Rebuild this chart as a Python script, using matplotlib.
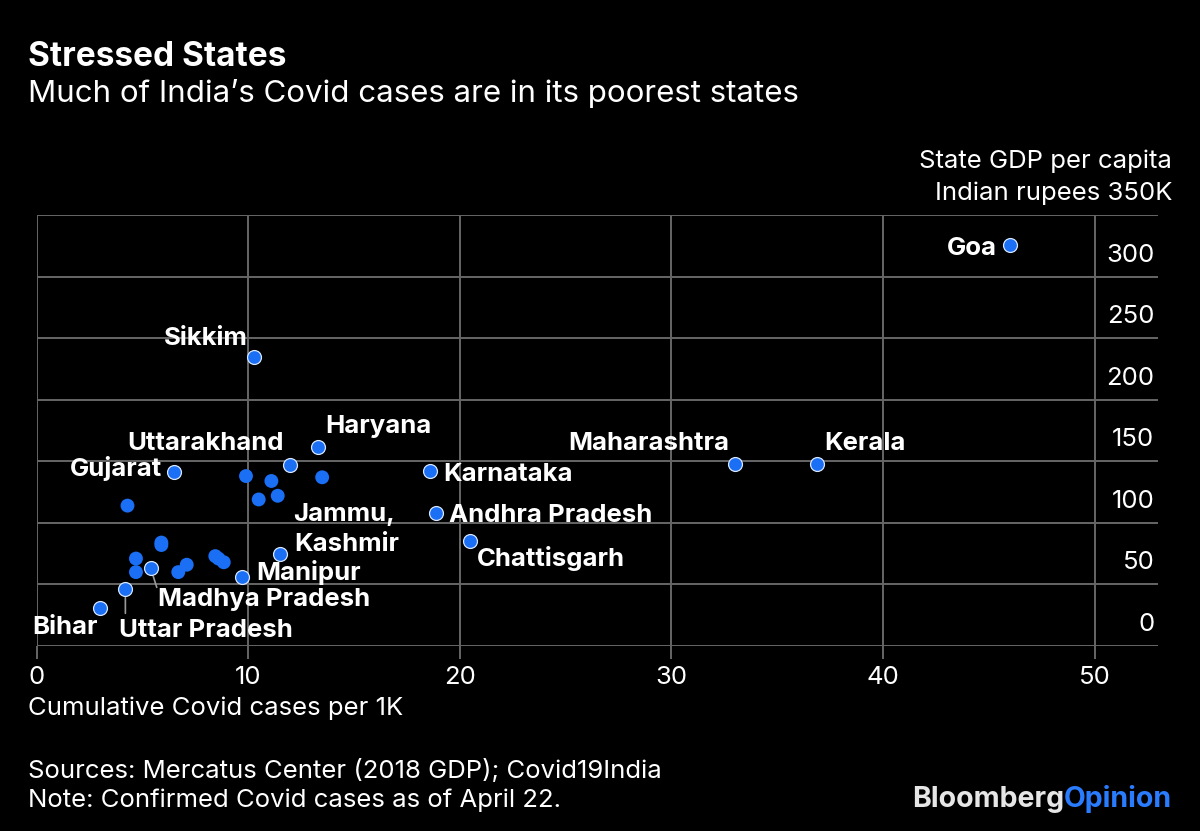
"""Stressed States: Covid cases vs state GDP per capita in India."""

import matplotlib

matplotlib.use("Agg")
import matplotlib.pyplot as plt

plt.rcParams["font.family"] = ["Inter", "DejaVu Sans"]

# cumulative Covid cases per 1K, state GDP per capita (thousand rupees)
states = [
    "Goa", "Sikkim", "Haryana", "Uttarakhand", "Gujarat", "Karnataka",
    "Maharashtra", "Kerala", "Andhra Pradesh", "Chattisgarh", "Jammu, Kashmir",
    "Manipur", "Madhya Pradesh", "Uttar Pradesh", "Bihar",
]
cases = [46.0, 10.3, 13.3, 12.0, 6.5, 18.6, 33.0, 36.9, 18.9, 20.5, 11.5, 9.7, 5.4, 4.2, 3.0]
gdp = [326, 235, 162, 147, 141, 142, 148, 148, 108, 85, 75, 56, 63, 46, 31]

other_cases = [9.9, 11.1, 13.5, 10.5, 11.4, 4.3, 5.9, 5.9, 4.7, 4.7, 6.7, 7.1, 8.45, 8.6, 8.85]
other_gdp = [138, 134, 137, 119, 122, 114, 84, 82, 71, 60, 60, 66, 73, 71, 68]

x_ticks = [0, 10, 20, 30, 40, 50]
y_ticks = [0, 50, 100, 150, 200, 250, 300]

BLUE = "#1a6ff4"
GRID = "#666666"
W, H = 1200, 831
LABEL_SIZE = 18.5
TEXT_SIZE = 18.5

# label placement: (dx, dy) in pixels from the point to the text baseline, alignment
label_pos = {
    "Goa": (-13, -10, "right"),
    "Sikkim": (-7, 12, "right"),
    "Haryana": (7, 14, "left"),
    "Uttarakhand": (-7, 15, "right"),
    "Gujarat": (-12, -4, "right"),
    "Karnataka": (13, -10, "left"),
    "Maharashtra": (-6, 14, "right"),
    "Kerala": (7, 14, "left"),
    "Andhra Pradesh": (13, -9, "left"),
    "Chattisgarh": (7, -25, "left"),
    "Manipur": (14, -3, "left"),
    "Madhya Pradesh": (7, -38, "left"),
    "Uttar Pradesh": (-6, -48, "left"),
    "Bihar": (-2, -26, "right"),
}
leaders = {"Madhya Pradesh": (6, -19), "Uttar Pradesh": (0, -24)}

fig = plt.figure(figsize=(W / 100, H / 100), dpi=100, facecolor="black")
ax = fig.add_axes([36.5 / W, 1 - 646 / H, (1158 - 36.5) / W, (646 - 215) / H])
ax.set_facecolor("black")
ax.set_xlim(0, 53)
ax.set_ylim(0, 350)

for s in ax.spines.values():
    s.set_visible(False)

ax.set_xticks(x_ticks)
ax.set_xticklabels([str(t) for t in x_ticks])
ax.set_yticks(y_ticks + [350])
ax.tick_params(axis="x", colors=GRID, length=9.4, width=1.4, pad=5, labelcolor="white", labelsize=TEXT_SIZE)
ax.tick_params(axis="y", left=False, labelleft=False)
ax.grid(True, color=GRID, linewidth=1.4)
ax.set_axisbelow(True)

for v in y_ticks:
    ax.annotate(str(v), xy=(52.83, v), xytext=(0, 15), textcoords="offset pixels",
                ha="right", va="baseline", color="white", fontsize=TEXT_SIZE)

ax.scatter(other_cases, other_gdp, s=100, color=BLUE, edgecolors="none", zorder=3)
ax.scatter(cases, gdp, s=100, color=BLUE, edgecolors="#d8e6ff", linewidths=0.9, zorder=4)

for name, x, y in zip(states, cases, gdp):
    if name == "Jammu, Kashmir":
        ax.annotate("Jammu,", xy=(x, y), xytext=(13, 33), textcoords="offset pixels",
                    ha="left", va="baseline", color="white", fontsize=LABEL_SIZE, fontweight="bold")
        ax.annotate("Kashmir", xy=(x, y), xytext=(14, 3), textcoords="offset pixels",
                    ha="left", va="baseline", color="white", fontsize=LABEL_SIZE, fontweight="bold")
        continue
    dx, dy, ha = label_pos[name]
    ax.annotate(name, xy=(x, y), xytext=(dx, dy), textcoords="offset pixels",
                ha=ha, va="baseline", color="white", fontsize=LABEL_SIZE, fontweight="bold")
    if name in leaders:
        lx, ly = leaders[name]
        ax.annotate("", xy=(x, y), xytext=(lx, ly), textcoords="offset pixels",
                    arrowprops=dict(arrowstyle="-", color="#9a9a9a", lw=1.2, shrinkA=0, shrinkB=6))

# titles and notes
fig.text(28 / W, 1 - 66 / H, "Stressed States", color="white", fontsize=24, fontweight="bold")
fig.text(28 / W, 1 - 102 / H, "Much of India\u2019s Covid cases are in its poorest states",
         color="white", fontsize=22.5)
fig.text(1172 / W, 1 - 168 / H, "State GDP per capita", color="white", fontsize=TEXT_SIZE, ha="right")
fig.text(1172 / W, 1 - 200 / H, "Indian rupees 350K", color="white", fontsize=TEXT_SIZE, ha="right")
fig.text(28 / W, 1 - 715 / H, "Cumulative Covid cases per 1K", color="white", fontsize=TEXT_SIZE)
fig.text(28 / W, 1 - 778 / H, "Sources: Mercatus Center (2018 GDP); Covid19India", color="white",
         fontsize=TEXT_SIZE)
fig.text(28 / W, 1 - 807 / H, "Note: Confirmed Covid cases as of April 22.", color="white",
         fontsize=TEXT_SIZE)

opinion = fig.text(1172 / W, 1 - 807 / H, "Opinion", color="#2a7cff", fontsize=20.5,
                   fontweight="bold", ha="right")
ax.annotate("Bloomberg", xy=(0, 0), xycoords=opinion, ha="right", va="bottom",
            color="#e6e6e6", fontsize=20.5, fontweight="bold", annotation_clip=False)

fig.savefig("out.png", dpi=100, facecolor="black")
